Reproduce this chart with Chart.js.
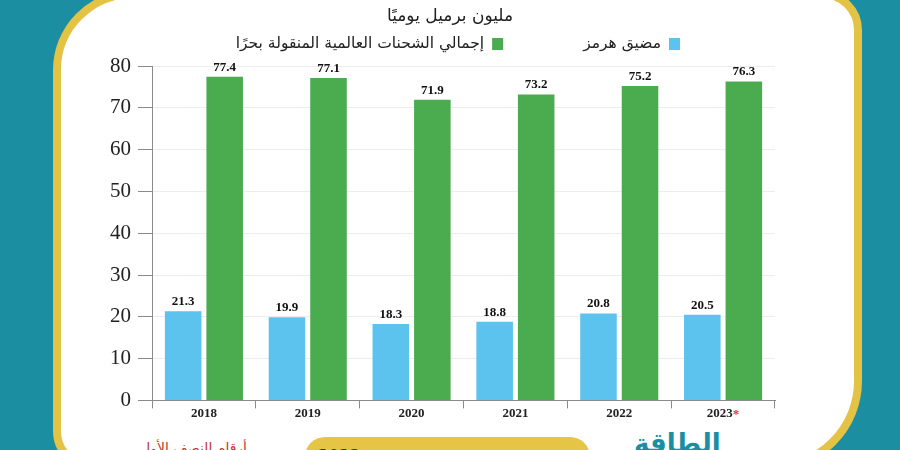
<!DOCTYPE html>
<html>
<head>
<meta charset="utf-8">
<script src="https://cdn.jsdelivr.net/npm/chart.js@4.4.1/dist/chart.umd.min.js"></script>
<style>
  html, body { margin: 0; padding: 0; }
  body { width: 900px; height: 450px; overflow: hidden; position: relative; background: #1b8ea1; }
  .panel { position: absolute; left: 53px; top: -10px; width: 809px; height: 481px; box-sizing: border-box;
           background: #fff; border: 8px solid #e3c244; border-radius: 80px 40px 90px 40px; }
  .pill { position: absolute; left: 305px; top: 437px; width: 285px; height: 40px; background: #e6c446;
          border-radius: 20px; font: bold 15px "DejaVu Sans", sans-serif; color: #333; text-align: center;
          line-height: 38px; direction: rtl; }
  .note { position: absolute; left: 140px; top: 440px; font: 14px "DejaVu Sans", sans-serif; color: #c0392b; direction: rtl; }
  .logo { position: absolute; left: 634px; top: 428px; font: bold 26px "DejaVu Sans", sans-serif; color: #1b8ea1; direction: rtl; }
  .wrap { position: absolute; left: 0; top: 0; width: 900px; height: 450px; }
</style>
</head>
<body>
<div class="panel"></div>
<div class="note">أرقام النصف الأول</div>
<div class="pill">المصدر: إدارة معلومات الطاقة 2023 - EIA</div>
<div class="logo">الطاقة</div>
<div class="wrap"><canvas id="chart"></canvas></div>
<script>
// values, million barrels per day
var years = ['2018', '2019', '2020', '2021', '2022', '2023'];
var hormuz = [21.3, 19.9, 18.3, 18.8, 20.8, 20.5];
var seaborne = [77.4, 77.1, 71.9, 73.2, 75.2, 76.3];
var yTicks = [0, 10, 20, 30, 40, 50, 60, 70, 80];
var estimatedYear = '2023';

var unitTitle = 'مليون برميل يوميًا';
var seriesNames = ['مضيق هرمز', 'إجمالي الشحنات العالمية المنقولة بحرًا'];
var seriesColors = ['#5bc3ee', '#4bab4f'];

var serif = '"Liberation Serif", "Times New Roman", serif';
var arabic = '"DejaVu Sans", sans-serif';

// title + legend drawn at fixed spots above the plot
var headerPlugin = {
    id: 'header',
    afterDraw: function(chart) {
        var ctx = chart.ctx;
        ctx.save();
        ctx.fillStyle = '#222';
        ctx.textBaseline = 'middle';
        ctx.textAlign = 'center';
        ctx.font = '17px ' + arabic;
        ctx.fillText(unitTitle, 450, 17);

        var y = 44;
        var x = 680;
        ctx.font = '15.5px ' + arabic;
        chart.data.datasets.forEach(function(ds) {
            ctx.fillStyle = ds.backgroundColor;
            ctx.fillRect(x - 11, y - 6, 11, 12);
            ctx.fillStyle = '#222';
            ctx.textAlign = 'right';
            ctx.fillText(ds.label, x - 19, y);
            x = x - 19 - ctx.measureText(ds.label).width - 80;
        });
        ctx.restore();
    }
};

// numbers on top of the bars, red star after the estimated year
var labelPlugin = {
    id: 'valueLabels',
    afterDatasetsDraw: function(chart) {
        var ctx = chart.ctx;
        ctx.save();
        ctx.fillStyle = '#111';
        ctx.textAlign = 'center';
        ctx.textBaseline = 'bottom';
        ctx.font = 'bold 13px ' + serif;
        chart.data.datasets.forEach(function(ds, i) {
            chart.getDatasetMeta(i).data.forEach(function(bar, j) {
                ctx.fillText(ds.data[j].toFixed(1), bar.x, bar.y - 3);
            });
        });

        var xs = chart.scales.x;
        var idx = years.indexOf(estimatedYear);
        var w = ctx.measureText(estimatedYear + '\u2002').width;
        var px = xs.getPixelForTick(idx) + w / 2 - ctx.measureText('\u2002').width;
        ctx.fillStyle = '#d9343b';
        ctx.textAlign = 'left';
        ctx.textBaseline = 'middle';
        ctx.fillText('*', px, xs.top + 14);
        ctx.restore();
    }
};

var labels = years.map(function(y) { return y === estimatedYear ? y + '\u2002' : y; });

new Chart(document.getElementById('chart').getContext('2d'), {
    type: 'bar',
    data: {
        labels: labels,
        datasets: [{
            label: seriesNames[0],
            data: hormuz,
            backgroundColor: seriesColors[0],
            categoryPercentage: 0.8,
            barPercentage: 0.88
        }, {
            label: seriesNames[1],
            data: seaborne,
            backgroundColor: seriesColors[1],
            categoryPercentage: 0.8,
            barPercentage: 0.88
        }]
    },
    options: {
        responsive: true,
        maintainAspectRatio: false,
        animation: false,
        layout: { padding: { top: 66, left: 103, right: 125, bottom: 32 } },
        plugins: {
            legend: { display: false },
            title: { display: false },
            tooltip: { enabled: false }
        },
        scales: {
            x: {
                grid: { drawOnChartArea: false, tickColor: '#8a8a8a', tickLength: 8, offset: true },
                border: { color: '#8a8a8a' },
                ticks: { color: '#222', font: { family: serif, size: 13, weight: 'bold' }, padding: -3 }
            },
            y: {
                min: 0,
                max: 80,
                afterBuildTicks: function(axis) {
                    axis.ticks = yTicks.map(function(v) { return { value: v }; });
                },
                grid: { color: '#ededed', tickColor: '#8a8a8a', tickLength: 14, offset: false },
                border: { color: '#8a8a8a' },
                ticks: { color: '#222', font: { family: serif, size: 21 }, padding: 7 }
            }
        }
    },
    plugins: [headerPlugin, labelPlugin]
});
</script>
</body>
</html>
